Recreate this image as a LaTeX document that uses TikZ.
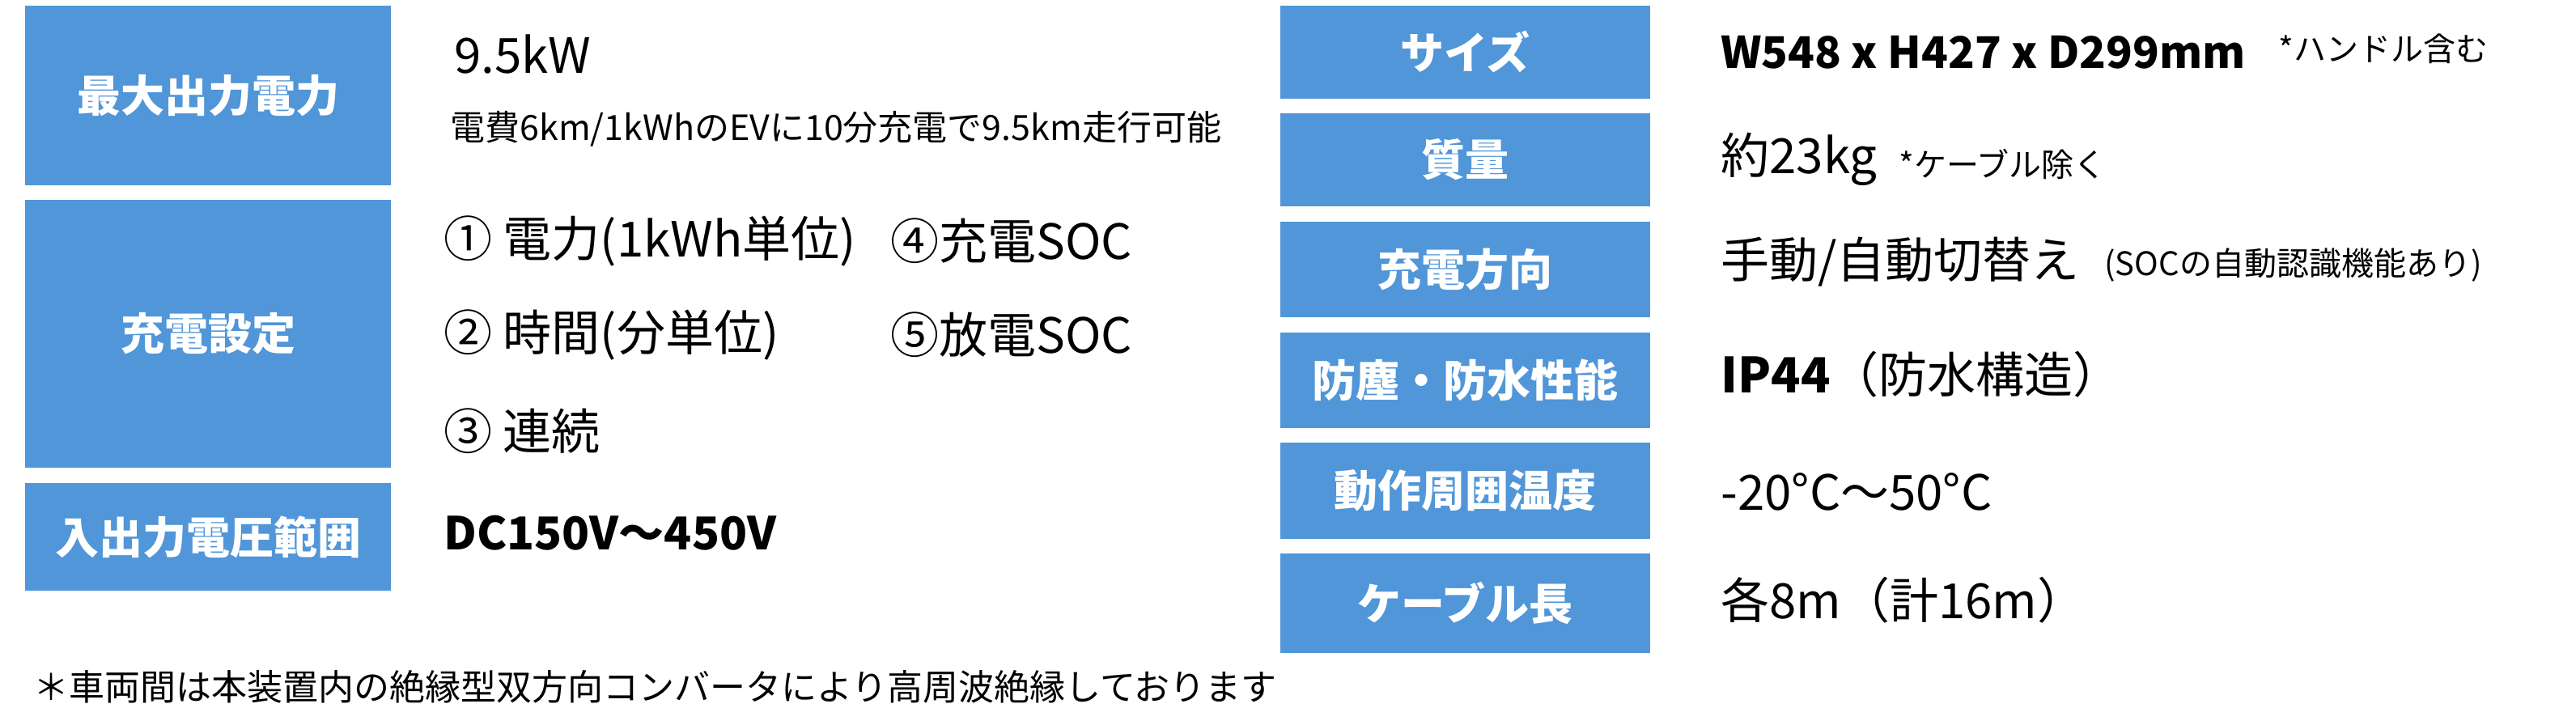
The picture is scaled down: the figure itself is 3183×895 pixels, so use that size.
\documentclass[tikz,border=0pt]{standalone}
\usepackage{fontspec}
\setmainfont{Noto Sans CJK JP}
\definecolor{boxblue}{HTML}{5096D8}
\begin{document}
\begin{tikzpicture}[x=0.5pt,y=-0.5pt,
  lab/.style={fill=boxblue,inner sep=0pt,text=white,font=\fontsize{27}{30}\selectfont\bfseries},
  val/.style={anchor=west,inner sep=0pt,font=\fontsize{30}{36}\selectfont},
  small/.style={anchor=west,inner sep=0pt,font=\fontsize{20}{24}\selectfont}]
\useasboundingbox (0,0) rectangle (3183,895);
\fill[white] (0,0) rectangle (3183,895);
% left boxes (sizes in pt = half of pixel size)
\node[lab,minimum width=226pt,minimum height=111pt] (l1) at (257,118) {最大出力電力};
\node[lab,minimum width=226pt,minimum height=165.5pt] (l2) at (257,412.5) {充電設定};
\node[lab,minimum width=226pt,minimum height=66.5pt] (l3) at (257,663.5) {入出力電圧範囲};
% right boxes
\node[lab,minimum width=228.5pt,minimum height=57.5pt] (r1) at (1810.5,64.5) {サイズ};
\node[lab,minimum width=228.5pt,minimum height=57.5pt] (r2) at (1810.5,197.5) {質量};
\node[lab,minimum width=228.5pt,minimum height=59pt] (r3) at (1810.5,333) {充電方向};
\node[lab,minimum width=228.5pt,minimum height=59pt] (r4) at (1810.5,470) {防塵・防水性能};
\node[lab,minimum width=228.5pt,minimum height=59.5pt] (r5) at (1810.5,606.5) {動作周囲温度};
\node[lab,minimum width=228.5pt,minimum height=61.5pt] (r6) at (1810.5,745.5) {ケーブル長};
% left values
\node[val] (v1) at (561,67) {9.5kW};
\node[small,font=\fontsize{21.5}{24}\selectfont] (v1b) at (556,159) {電費6km/1kWhのEVに10分充電で9.5km走行可能};
\node[val] (v2a) at (548,298) {① 電力(1kWh単位)};
\node[val] (v2d) at (1100,298) {④充電SOC};
\node[val] (v2b) at (548,414) {② 時間(分単位)};
\node[val] (v2e) at (1100,414) {⑤放電SOC};
\node[val] (v2c) at (548,533) {③ 連続};
\node[val,font=\fontsize{28}{36}\selectfont\bfseries] (v3) at (548,659) {DC150V～450V};
% right values
\node[val,font=\fontsize{27}{36}\selectfont\bfseries] (w1) at (2126,65) {W548 x H427 x D299mm};
\node[small] (w1b) at (2815,60) {*ハンドル含む};
\node[val] (w2) at (2126,197) {約23kg};
\node[small] (w2b) at (2346,203) {*ケーブル除く};
\node[val] (w3) at (2126,324) {手動/自動切替え};
\node[small] (w3b) at (2600,328) {(SOCの自動認識機能あり)};
\node[val] (w4) at (2126,463) {\textbf{IP44}（防水構造）};
\node[val] (w5) at (2126,608) {-20°C～50°C};
\node[val] (w6) at (2126,742) {各8m（計16m）};
% footnote
\node[small,font=\fontsize{22}{24}\selectfont] (fn) at (41,849) {＊車両間は本装置内の絶縁型双方向コンバータにより高周波絶縁しております};
\end{tikzpicture}
\end{document}
